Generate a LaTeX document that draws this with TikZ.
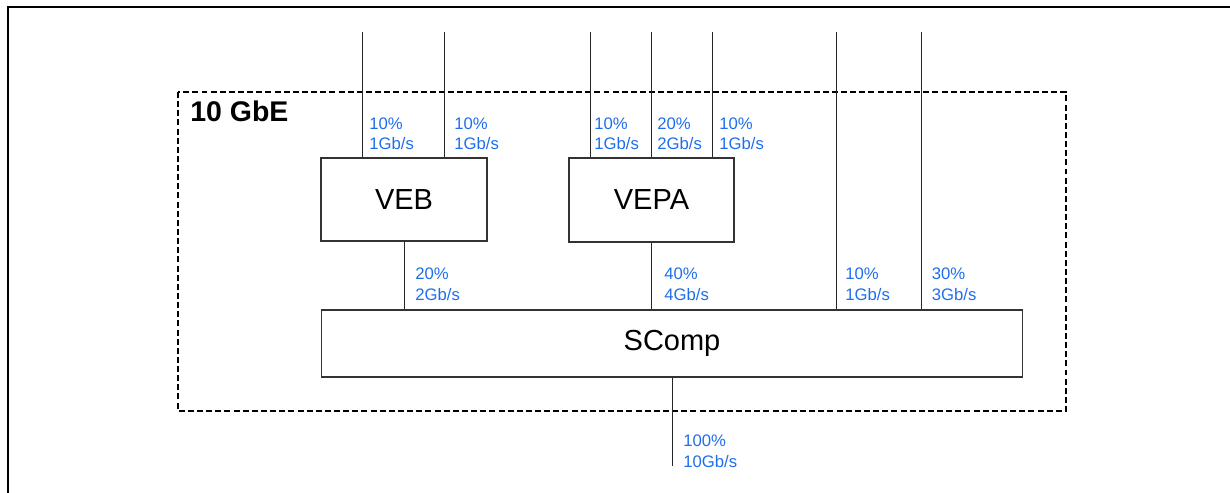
\documentclass[tikz,border=0pt]{standalone}
\usepackage{fontspec}
\setmainfont{Liberation Sans}
\definecolor{ratecol}{RGB}{30,110,235}
\begin{document}
\begin{tikzpicture}[x=0.02cm,y=-0.02cm,
  box/.style={draw=black!80,line width=0.6pt,inner sep=0pt,font=\fontsize{16.5}{18}\selectfont},
  link/.style={draw=black!85,line width=0.55pt},
  rate/.style={anchor=north west,inner sep=0pt,align=left,text=ratecol,font=\fontsize{9.5}{11.8}\selectfont}]
  \useasboundingbox (0,0) rectangle (1230,493);
  % frame
  \draw[line width=1.2pt] (8,493) -- (8,7) -- (1230,7);
  % 10 GbE area
  \draw[line width=1.1pt,dash pattern=on 3.4pt off 1.8pt] (178,92) rectangle (1066,411);
  \node[anchor=north west,inner sep=0pt,font=\bfseries\fontsize{16.2}{18}\selectfont] (gbe) at (190,101) {10 GbE};
  % bridges
  \node[box,minimum width=3.32cm,minimum height=1.66cm] (veb) at (404,199.5) {VEB};
  \node[box,minimum width=3.3cm,minimum height=1.68cm] (vepa) at (651.5,200) {VEPA};
  \node[box,minimum width=14.04cm,minimum height=1.34cm] (scomp) at (672,343.5) {SComp};
  % free ends
  \coordinate (v1) at (362.5,32);
  \coordinate (v2) at (444,32);
  \coordinate (p1) at (590,32);
  \coordinate (p2) at (651.5,32);
  \coordinate (p3) at (712.5,32);
  \coordinate (s1) at (836,32);
  \coordinate (s2) at (921,32);
  \coordinate (out) at (672,466);
  % links
  \draw[link] (v1) -- (v1 |- veb.north);
  \draw[link] (v2) -- (v2 |- veb.north);
  \draw[link] (p1) -- (p1 |- vepa.north);
  \draw[link] (p2) -- (p2 |- vepa.north);
  \draw[link] (p3) -- (p3 |- vepa.north);
  \draw[link] (s1) -- (s1 |- scomp.north);
  \draw[link] (s2) -- (s2 |- scomp.north);
  \draw[link] (veb.south) -- (veb.south |- scomp.north);
  \draw[link] (vepa.south) -- (vepa.south |- scomp.north);
  \draw[link] (scomp.south) -- (out);
  % rates
  \node[rate] (rv1) at (369,117) {10\%\\1Gb/s};
  \node[rate] (rv2) at (454,117) {10\%\\1Gb/s};
  \node[rate] (rp1) at (594,117) {10\%\\1Gb/s};
  \node[rate] (rp2) at (657,117) {20\%\\2Gb/s};
  \node[rate] (rp3) at (719,117) {10\%\\1Gb/s};
  \node[rate] (rveb) at (415,267.5) {20\%\\2Gb/s};
  \node[rate] (rvepa) at (664,267.5) {40\%\\4Gb/s};
  \node[rate] (rs1) at (845,267.5) {10\%\\1Gb/s};
  \node[rate] (rs2) at (931.5,267.5) {30\%\\3Gb/s};
  \node[rate] (rout) at (683,434.5) {100\%\\10Gb/s};
\end{tikzpicture}
\end{document}
